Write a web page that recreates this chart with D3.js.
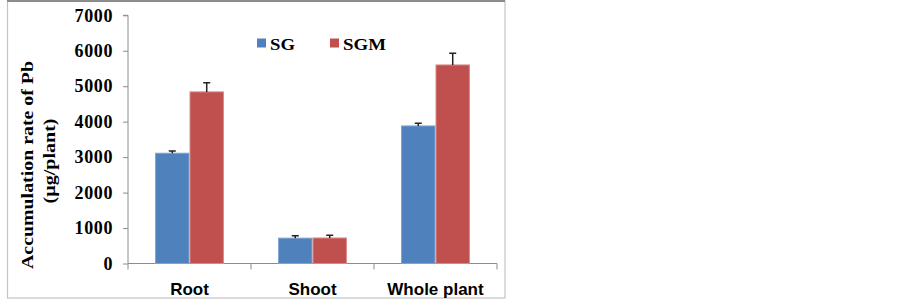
<!DOCTYPE html>
<html><head><meta charset="utf-8">
<script src="https://cdn.jsdelivr.net/npm/d3@7"></script>
<style>body{margin:0;background:#fff}svg{display:block}</style>
</head><body>
<script>
const categories = ["Root", "Shoot", "Whole plant"];
const seriesNames = ["SG", "SGM"];
const sgValues = [3110, 715, 3880];
const sgErrors = [65, 65, 75];
const sgmValues = [4840, 720, 5600];
const sgmErrors = [260, 80, 330];
const yTicks = [0, 1000, 2000, 3000, 4000, 5000, 6000, 7000];
const colors = ["#4F81BD", "#C0504D"];
const strokeColors = ["#7FA3D3", "#D98A88"];

const W = 903, H = 300;
const svg = d3.select("body").append("svg").attr("width", W).attr("height", H);

// outer frame
svg.append("rect").attr("x", 7.5).attr("y", 1).attr("width", 497.5).attr("height", 297)
  .attr("fill", "none").attr("stroke", "#c4c4c4").attr("stroke-width", 1.2);
svg.append("line").attr("x1", 7).attr("x2", 505).attr("y1", 1).attr("y2", 1)
  .attr("stroke", "#8c8c8c").attr("stroke-width", 2);

const x0 = d3.scaleBand().domain(categories).range([128, 497]).paddingInner(0.44).paddingOuter(0.22);
const x1 = d3.scaleBand().domain(seriesNames).range([0, x0.bandwidth()]);
const y = d3.scaleLinear().domain([0, 7000]).range([263.5, 15.3]);

const data = categories.map((c, i) => ({
  cat: c,
  vals: [
    {s: "SG", v: sgValues[i], e: sgErrors[i], k: 0},
    {s: "SGM", v: sgmValues[i], e: sgmErrors[i], k: 1}
  ]
}));

// y axis
const yAxis = svg.append("g").attr("transform", "translate(128,0)")
  .call(d3.axisLeft(y).tickValues(yTicks).tickSize(5).tickPadding(10).tickFormat(d3.format("d")));
yAxis.select(".domain").attr("stroke", "#8c8c8c").attr("d", "M-5," + y(7000) + "H0V" + y(0));
yAxis.selectAll(".tick line").attr("stroke", "#8c8c8c");
yAxis.selectAll(".tick text").attr("font-family", "'Liberation Serif', 'Times New Roman', serif")
  .attr("font-weight", "bold").attr("font-size", 18).attr("fill", "#000")
  .attr("letter-spacing", "0.6px");

// x axis
const boundaries = [x0.range()[0]].concat(categories.map(c => x0(c) - x0.step() * x0.paddingInner() / 2 + x0.step()));
const xg = svg.append("g");
xg.append("line").attr("x1", 128).attr("x2", 497).attr("y1", y(0)).attr("y2", y(0))
  .attr("stroke", "#8c8c8c");
xg.selectAll("line.tk").data(boundaries).join("line").attr("class", "tk")
  .attr("x1", d => d).attr("x2", d => d).attr("y1", y(0)).attr("y2", y(0) + 6)
  .attr("stroke", "#8c8c8c");
xg.selectAll("text").data(categories).join("text")
  .attr("x", d => x0(d) + x0.bandwidth() / 2).attr("y", 295)
  .attr("text-anchor", "middle")
  .attr("font-family", "'Liberation Sans', Arial, sans-serif").attr("font-weight", "bold")
  .attr("font-size", 17).attr("fill", "#000").text(d => d);

// bars
const groups = svg.append("g").selectAll("g").data(data).join("g")
  .attr("transform", d => `translate(${x0(d.cat)},0)`);
groups.selectAll("rect").data(d => d.vals).join("rect")
  .attr("x", d => x1(d.s) + 0.5).attr("width", x1.bandwidth() - 1)
  .attr("y", d => y(d.v)).attr("height", d => y(0) - y(d.v))
  .attr("fill", d => colors[d.k]).attr("stroke", d => strokeColors[d.k]).attr("stroke-width", 1);

// error bars
groups.selectAll("path.err").data(d => d.vals).join("path").attr("class", "err")
  .attr("d", d => {
    const cx = x1(d.s) + x1.bandwidth() / 2;
    return `M${cx},${y(d.v)}V${y(d.v + d.e)}M${cx - 3.5},${y(d.v + d.e)}H${cx + 3.5}`;
  })
  .attr("stroke", "#222").attr("stroke-width", 1.5).attr("fill", "none");

// legend
const legendX = [257, 330];
const legendW = [25, 43];
const lg = svg.append("g").selectAll("g").data(seriesNames).join("g")
  .attr("transform", (d, i) => `translate(${legendX[i]},0)`);
lg.append("rect").attr("x", 0).attr("y", 38.5).attr("width", 9).attr("height", 9)
  .attr("fill", (d, i) => colors[i]);
lg.append("text").attr("x", 13).attr("y", 50)
  .attr("font-family", "'Liberation Serif', 'Times New Roman', serif").attr("font-weight", "bold")
  .attr("font-size", 17).attr("fill", "#000")
  .attr("textLength", (d, i) => legendW[i]).attr("lengthAdjust", "spacingAndGlyphs")
  .text(d => d);

// y title
const title = svg.append("g").attr("transform", "translate(0,165) rotate(-90)");
title.append("text").attr("x", 0).attr("y", 33)
  .attr("text-anchor", "middle")
  .attr("font-family", "'Liberation Serif', 'Times New Roman', serif").attr("font-weight", "bold")
  .attr("font-size", 17).attr("fill", "#000")
  .attr("textLength", 208).attr("lengthAdjust", "spacingAndGlyphs")
  .text("Accumulation rate of Pb");
title.append("text").attr("x", 4).attr("y", 55)
  .attr("text-anchor", "middle")
  .attr("font-family", "'Liberation Serif', 'Times New Roman', serif").attr("font-weight", "bold")
  .attr("font-size", 17).attr("fill", "#000")
  .attr("textLength", 85).attr("lengthAdjust", "spacingAndGlyphs")
  .text("(µg/plant)");
</script>
</body></html>
